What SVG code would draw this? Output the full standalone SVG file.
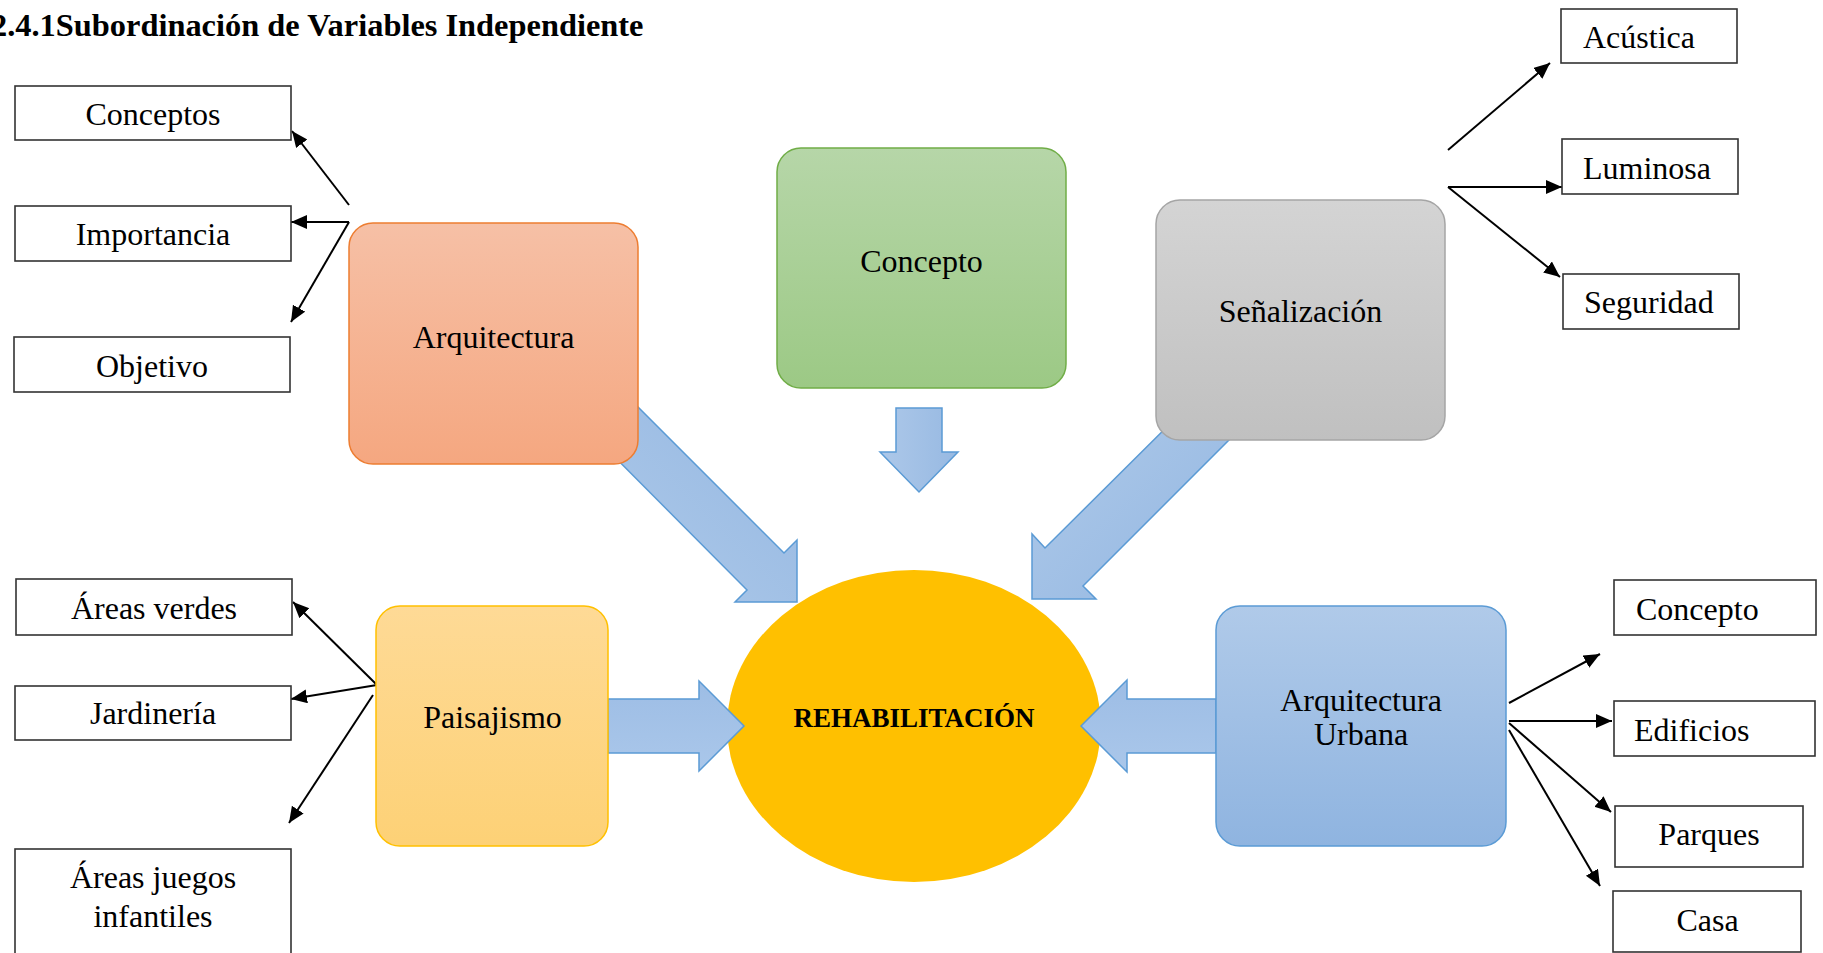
<svg xmlns="http://www.w3.org/2000/svg" width="1823" height="953" viewBox="0 0 1823 953">
<defs>
<style>
.t{font-family:"Liberation Serif","Times New Roman",serif;font-size:32px;fill:#000}
.c{text-anchor:middle}
.b{font-weight:bold}
.box{fill:#fff;stroke:#333;stroke-width:1.6}
.ln{stroke:#000;stroke-width:2;fill:none;marker-end:url(#ah)}
.blk{stroke:#5b9bd5;stroke-width:1.5;stroke-linejoin:miter}
</style>
<marker id="ah" markerUnits="userSpaceOnUse" markerWidth="17" markerHeight="15" refX="16" refY="7" orient="auto">
<path d="M0,0 L16,7 L0,14 z" fill="#000"/>
</marker>
<linearGradient id="gOr" x1="0" y1="0" x2="0" y2="1"><stop offset="0" stop-color="#f6c0a6"/><stop offset="1" stop-color="#f5a780"/></linearGradient>
<linearGradient id="gGr" x1="0" y1="0" x2="0" y2="1"><stop offset="0" stop-color="#b6d6a8"/><stop offset="1" stop-color="#9cc985"/></linearGradient>
<linearGradient id="gGy" x1="0" y1="0" x2="0" y2="1"><stop offset="0" stop-color="#d4d4d4"/><stop offset="1" stop-color="#c0c0c0"/></linearGradient>
<linearGradient id="gYe" x1="0" y1="0" x2="0" y2="1"><stop offset="0" stop-color="#feda96"/><stop offset="1" stop-color="#fdd176"/></linearGradient>
<linearGradient id="gBl" x1="0" y1="0" x2="0" y2="1"><stop offset="0" stop-color="#b0cae9"/><stop offset="1" stop-color="#8fb4e0"/></linearGradient>
<linearGradient id="gA1" x1="0" y1="1" x2="1" y2="0"><stop offset="0" stop-color="#b0cbea"/><stop offset="1" stop-color="#93b6e1"/></linearGradient>
<linearGradient id="gA2" x1="0" y1="0" x2="1" y2="1"><stop offset="0" stop-color="#b0cbea"/><stop offset="1" stop-color="#93b6e1"/></linearGradient>
<linearGradient id="gAv" x1="0" y1="0" x2="1" y2="0"><stop offset="0" stop-color="#adc8e9"/><stop offset="1" stop-color="#97b9e2"/></linearGradient>
<linearGradient id="gAh" x1="0" y1="0" x2="0" y2="1"><stop offset="0" stop-color="#9dbde5"/><stop offset="1" stop-color="#aac7ea"/></linearGradient>
</defs>
<rect width="1823" height="953" fill="#fff"/>

<text id="title" class="t b" x="-9" y="36" style="font-size:32.4px">2.4.1Subordinación de Variables Independiente</text>

<g id="center">
<ellipse cx="914" cy="726" rx="187" ry="156" fill="#ffc000"/>
<text class="t c b" x="914" y="727" style="font-size:27px">REHABILITACIÓN</text>
</g>

<g id="block-arrows">
<polygon class="blk" fill="url(#gA1)" points="600,369 784,553 797,540 797,602 735,602 747,590 563.5,405.5"/>
<polygon class="blk" fill="url(#gAv)" points="896,408 942,408 942,452 958,452 919,492 880,452 896,452"/>
<polygon class="blk" fill="url(#gA2)" points="1200,394 1045,548 1032,534 1032,599 1096,599 1083,586 1237.5,431.5"/>
<polygon class="blk" fill="url(#gAh)" points="608,699 699,699 699,681 744,726 699,771 699,753 608,753"/>
<polygon class="blk" fill="url(#gAh)" points="1216,699 1127,699 1127,680 1081,726 1127,772 1127,753 1216,753"/>
</g>

<g id="connectors">
<line class="ln" x1="349" y1="205" x2="292" y2="131"/>
<line class="ln" x1="349" y1="222" x2="291" y2="222"/>
<line class="ln" x1="349" y1="222" x2="291" y2="322"/>
<line class="ln" x1="377" y1="685" x2="293" y2="602"/>
<line class="ln" x1="377" y1="685" x2="291" y2="699"/>
<line class="ln" x1="373" y1="695" x2="289" y2="823"/>
<line class="ln" x1="1448" y1="150" x2="1550" y2="63"/>
<line class="ln" x1="1448" y1="187" x2="1562" y2="187"/>
<line class="ln" x1="1448" y1="187" x2="1560" y2="277"/>
<line class="ln" x1="1509" y1="703" x2="1600" y2="654"/>
<line class="ln" x1="1509" y1="721" x2="1612" y2="721"/>
<line class="ln" x1="1509" y1="723" x2="1611" y2="812"/>
<line class="ln" x1="1509" y1="730" x2="1600" y2="886"/>
</g>

<g id="arquitectura">
<rect x="349" y="223" width="289" height="241" rx="24" fill="url(#gOr)" stroke="#ed7d31" stroke-width="1.5"/>
<text class="t c" x="493.5" y="348">Arquitectura</text>
</g>
<g id="concepto">
<rect x="777" y="148" width="289" height="240" rx="24" fill="url(#gGr)" stroke="#70ad47" stroke-width="1.5"/>
<text class="t c" x="921.5" y="272">Concepto</text>
</g>
<g id="senalizacion">
<rect x="1156" y="200" width="289" height="240" rx="24" fill="url(#gGy)" stroke="#a5a5a5" stroke-width="1.5"/>
<text class="t c" x="1300.5" y="322">Señalización</text>
</g>
<g id="paisajismo">
<rect x="376" y="606" width="232" height="240" rx="24" fill="url(#gYe)" stroke="#ffc000" stroke-width="1.5"/>
<text class="t c" x="492.5" y="728">Paisajismo</text>
</g>
<g id="arq-urbana">
<rect x="1216" y="606" width="290" height="240" rx="24" fill="url(#gBl)" stroke="#5b9bd5" stroke-width="1.5"/>
<text class="t c" x="1361" y="711">Arquitectura</text>
<text class="t c" x="1361" y="745">Urbana</text>
</g>

<g id="conceptos"><rect class="box" x="15" y="86" width="276" height="54"/><text class="t c" x="153" y="125">Conceptos</text></g>
<g id="importancia"><rect class="box" x="15" y="206" width="276" height="55"/><text class="t c" x="153" y="245">Importancia</text></g>
<g id="objetivo"><rect class="box" x="14" y="337" width="276" height="55"/><text class="t c" x="152" y="377">Objetivo</text></g>

<g id="areas-verdes"><rect class="box" x="16" y="579" width="276" height="56"/><text class="t c" x="154" y="619">Áreas verdes</text></g>
<g id="jardineria"><rect class="box" x="15" y="686" width="276" height="54"/><text class="t c" x="153" y="724">Jardinería</text></g>
<g id="areas-juegos"><rect class="box" x="15" y="849" width="276" height="115"/><text class="t c" x="153" y="888">Áreas juegos</text><text class="t c" x="153" y="927">infantiles</text></g>

<g id="acustica"><rect class="box" x="1561" y="9" width="176" height="54"/><text class="t" x="1583" y="48">Acústica</text></g>
<g id="luminosa"><rect class="box" x="1562" y="139" width="176" height="55"/><text class="t" x="1583" y="179">Luminosa</text></g>
<g id="seguridad"><rect class="box" x="1563" y="274" width="176" height="55"/><text class="t" x="1584" y="313">Seguridad</text></g>

<g id="concepto-r"><rect class="box" x="1614" y="580" width="202" height="55"/><text class="t" x="1636" y="620">Concepto</text></g>
<g id="edificios"><rect class="box" x="1614" y="701" width="201" height="55"/><text class="t" x="1634" y="741">Edificios</text></g>
<g id="parques"><rect class="box" x="1615" y="806" width="188" height="61"/><text class="t c" x="1709" y="845">Parques</text></g>
<g id="casa"><rect class="box" x="1613" y="891" width="188" height="61"/><text class="t c" x="1707.5" y="931">Casa</text></g>
</svg>
